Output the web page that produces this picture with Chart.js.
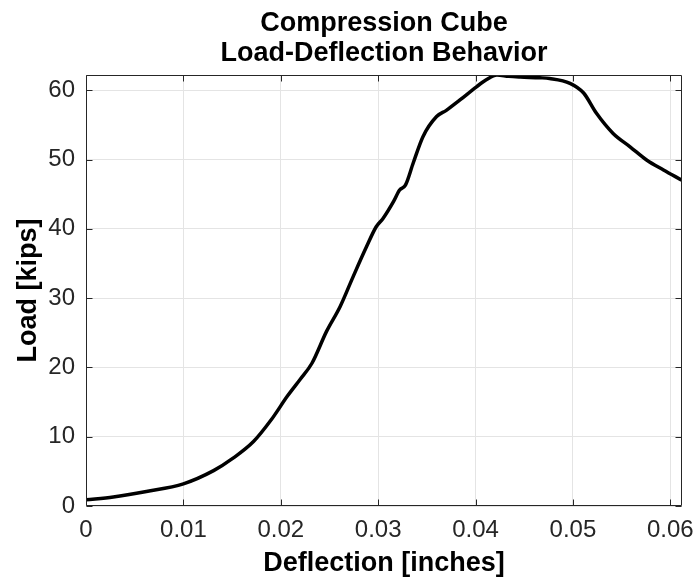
<!DOCTYPE html>
<html>
<head>
<meta charset="utf-8">
<script src="https://cdn.jsdelivr.net/npm/chart.js@4.4.0/dist/chart.umd.min.js"></script>
<style>
  html, body { margin: 0; padding: 0; background: #ffffff; }
  #wrap { width: 698px; height: 582px; }
</style>
</head>
<body>
<div id="wrap"><canvas id="c" width="698" height="582"></canvas></div>
<script>
// ---- data ----
const deflection = [0, 0.0028, 0.0062, 0.0100, 0.0131, 0.0151, 0.0172, 0.0190, 0.0207, 0.0220,
  0.0232, 0.0247, 0.0261, 0.0274, 0.0288, 0.0298, 0.0305, 0.0316, 0.0322, 0.0328,
  0.0336, 0.0346, 0.0360, 0.0370, 0.0384, 0.0401, 0.0411, 0.0422, 0.0434, 0.0446,
  0.0466, 0.0476, 0.0497, 0.0511, 0.0524, 0.0541, 0.0559, 0.0576, 0.0593, 0.0612];
const load = [0.9, 1.3, 2.1, 3.2, 5.1, 6.9, 9.3, 12.4, 15.9, 18.3,
  20.6, 25.2, 28.8, 33.0, 37.4, 40.3, 41.5, 44.0, 45.6, 46.3,
  49.5, 53.3, 56.2, 57.1, 58.6, 60.5, 61.5, 62.2, 62.0, 61.9,
  61.8, 61.7, 61.0, 59.6, 56.7, 53.8, 51.8, 49.9, 48.5, 47.0];

const xTickValues = [0, 0.01, 0.02, 0.03, 0.04, 0.05, 0.06];
const xTickLabels = ['0', '0.01', '0.02', '0.03', '0.04', '0.05', '0.06'];
const yTickValues = [0, 10, 20, 30, 40, 50, 60];
const yTickLabels = ['0', '10', '20', '30', '40', '50', '60'];

const titleLines = ['Compression Cube', 'Load-Deflection Behavior'];
const xTitle = 'Deflection [inches]';
const yTitle = 'Load [kips]';

const xMin = 0, xMax = 0.0612;
const yMin = 0, yMax = 62.2;

// ---- chart ----
const FONT = "'Liberation Sans', Arial, Helvetica, sans-serif";
const AXIS_COLOR = '#262626';
const GRID_COLOR = '#e4e4e4';

const points = deflection.map((d, i) => ({ x: d, y: load[i] }));

const boxPlugin = {
  id: 'matlabBox',
  afterDatasetsDraw(chart) {
    const { ctx, chartArea: a, scales } = chart;
    const xs = scales.x, ys = scales.y;
    const L = Math.round(a.left) + 0.5, R = Math.round(a.right) - 0.5;
    const T = Math.round(a.top) + 0.5, B = Math.round(a.bottom) - 0.5;
    const tl = 6;
    ctx.save();
    ctx.strokeStyle = AXIS_COLOR;
    ctx.lineWidth = 1;
    ctx.beginPath();
    ctx.rect(L, T, R - L, B - T);
    xTickValues.forEach(v => {
      const px = Math.round(xs.getPixelForValue(v)) + 0.5;
      ctx.moveTo(px, B); ctx.lineTo(px, B - tl);
      ctx.moveTo(px, T); ctx.lineTo(px, T + tl);
    });
    yTickValues.forEach(v => {
      const py = Math.round(ys.getPixelForValue(v)) + 0.5;
      ctx.moveTo(L, py); ctx.lineTo(L + tl, py);
      ctx.moveTo(R, py); ctx.lineTo(R - tl, py);
    });
    ctx.stroke();
    ctx.restore();
  }
};

new Chart(document.getElementById('c'), {
  type: 'scatter',
  data: {
    datasets: [{
      data: points,
      showLine: true,
      borderColor: '#000000',
      backgroundColor: '#000000',
      borderWidth: 3.5,
      pointRadius: 0,
      pointHoverRadius: 0,
      cubicInterpolationMode: 'monotone',
      borderJoinStyle: 'round',
      borderCapStyle: 'round'
    }]
  },
  options: {
    responsive: false,
    animation: false,
    devicePixelRatio: 1,
    events: [],
    layout: { padding: { left: 0, right: 16, top: 0, bottom: 0 } },
    plugins: {
      legend: { display: false },
      tooltip: { enabled: false },
      title: {
        display: true,
        text: titleLines,
        fullSize: false,
        color: '#000000',
        font: { family: FONT, size: 27, weight: 'bold', lineHeight: 1.111 },
        padding: { top: 8.3, bottom: 6.7 }
      }
    },
    scales: {
      x: {
        type: 'linear',
        min: xMin,
        max: xMax,
        afterBuildTicks: (s) => { s.ticks = xTickValues.map(v => ({ value: v })); },
        afterFit: (s) => { s.height = 76; s.paddingLeft = 0; s.paddingRight = 0; },
        ticks: {
          autoSkip: false, maxRotation: 0, minRotation: 0,
          padding: 9.6,
          color: AXIS_COLOR,
          font: { family: FONT, size: 24 },
          callback: (value, index) => xTickLabels[index]
        },
        grid: { color: GRID_COLOR, lineWidth: 1, drawTicks: false },
        border: { display: false },
        title: {
          display: true,
          text: xTitle,
          color: '#000000',
          font: { family: FONT, size: 27, weight: 'bold', lineHeight: 1.2 },
          padding: { top: 0, bottom: 2.5 }
        }
      },
      y: {
        type: 'linear',
        min: yMin,
        max: yMax,
        afterBuildTicks: (s) => { s.ticks = yTickValues.map(v => ({ value: v })); },
        afterFit: (s) => { s.width = 86; s.paddingTop = 0; s.paddingBottom = 0; },
        ticks: {
          autoSkip: false,
          padding: 11,
          color: AXIS_COLOR,
          font: { family: FONT, size: 24 },
          callback: (value, index) => yTickLabels[index]
        },
        grid: { color: GRID_COLOR, lineWidth: 1, drawTicks: false },
        border: { display: false },
        title: {
          display: true,
          text: yTitle,
          color: '#000000',
          font: { family: FONT, size: 27, weight: 'bold', lineHeight: 1.2 },
          padding: { top: 12.1, bottom: 0 }
        }
      }
    }
  },
  plugins: [boxPlugin]
});
</script>
</body>
</html>
